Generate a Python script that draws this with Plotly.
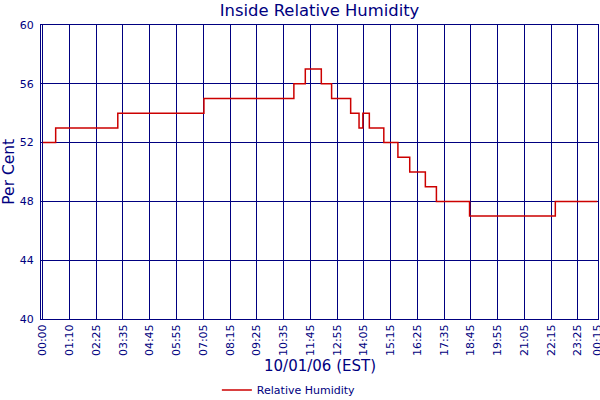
import pandas as pd
import plotly.graph_objects as go

# Veri
day = "2006-10-01"
times = ["00:00", "00:34", "03:17", "07:03", "10:59", "11:29", "12:11", "12:38",
         "13:28", "13:50", "14:00", "14:17", "14:55", "15:32", "16:03", "16:44",
         "17:13", "18:40", "22:25"]
humidity = [52, 53, 54, 55, 56, 57, 56, 55,
            54, 53, 54, 53, 52, 51, 50, 49,
            48, 47, 48]
end_time = "2006-10-02 00:15"

tick_labels = ["00:00", "01:10", "02:25", "03:35", "04:45", "05:55", "07:05",
               "08:15", "09:25", "10:35", "11:45", "12:55", "14:05", "15:15",
               "16:25", "17:35", "18:45", "19:55", "21:05", "22:15", "23:25",
               "00:15"]
y_ticks = [40, 44, 48, 52, 56, 60]

x = pd.to_datetime([f"{day} {t}" for t in times] + [end_time])
y = humidity + [humidity[-1]]

start = pd.Timestamp(f"{day} 00:00")
step = pd.Timedelta(minutes=70.2)
tick_pos = [start + k * step for k in range(len(tick_labels) - 1)] + [pd.Timestamp(end_time)]

navy = "#000080"
font = "DejaVu Sans"

fig = go.Figure()
fig.add_trace(go.Scatter(
    x=x, y=y,
    mode="lines",
    line=dict(shape="hv", color="#CC0000", width=1.5),
    name="Relative Humidity"
))

fig.update_layout(
    width=600, height=400,
    margin=dict(l=41, r=2, t=25, b=81),
    paper_bgcolor="white", plot_bgcolor="white",
    title=dict(text="Inside Relative Humidity", x=0.5, xref="paper",
               y=0.975, yref="container", yanchor="middle",
               font=dict(family=font, size=16.4, color=navy)),
    showlegend=True,
    legend=dict(orientation="h", x=0.445, xanchor="center",
                yref="container", y=0.025, yanchor="middle",
                font=dict(family=font, size=11, color=navy)),
    annotations=[
        dict(text="10/01/06 (EST)", xref="paper", yref="paper",
             x=0.5, y=-0.16, xanchor="center", yanchor="middle", showarrow=False,
             font=dict(family=font, size=15, color=navy)),
        dict(text="Per Cent", xref="paper", yref="paper",
             x=-0.058, y=0.5, xanchor="center", yanchor="middle",
             textangle=-90, showarrow=False,
             font=dict(family=font, size=15.5, color=navy)),
    ],
)

fig.update_xaxes(
    range=[start - pd.Timedelta(minutes=4.5), start + pd.Timedelta(minutes=1457)],
    tickvals=tick_pos, ticktext=tick_labels, tickangle=-90,
    tickfont=dict(family=font, size=11, color=navy),
    ticklabeloverflow="allow",
    showgrid=True, gridcolor=navy, gridwidth=1,
    showline=True, linecolor=navy, linewidth=1, mirror=True,
    zeroline=False, automargin=False
)
fig.update_yaxes(
    range=[40, 60], tickvals=y_ticks,
    tickfont=dict(family=font, size=11, color=navy),
    ticklabelstandoff=4,
    showgrid=True, gridcolor=navy, gridwidth=1,
    showline=True, linecolor=navy, linewidth=1, mirror=True,
    zeroline=False, automargin=False
)

# sayfa kenar boşluğunu kaldır
fig.write_html("out.html", config={"displayModeBar": False},
               post_script="document.body.style.margin='0';")
